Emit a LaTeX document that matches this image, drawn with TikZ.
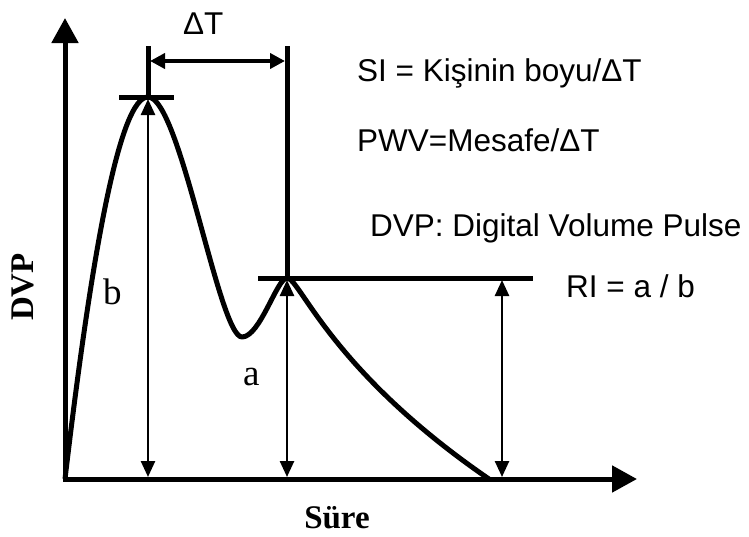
\documentclass[tikz,border=0pt]{standalone}
\usepackage{fontspec}
\setmainfont{Liberation Sans}
\newfontfamily\timesfont{Liberation Serif}
\usetikzlibrary{positioning, arrows.meta}

\begin{document}
\begin{tikzpicture}[x=1pt, y=-1pt,
  thickline/.style={line width=5pt},
  axisarrow/.style={line width=5pt, -{Triangle[length=25pt,width=26pt]}},
  dtarrow/.style={line width=4pt, {Triangle[length=15pt,width=15pt]}-{Triangle[length=15pt,width=15pt]}},
  thinarrow/.style={line width=2.5pt, {Triangle[length=16pt,width=14pt]}-{Triangle[length=16pt,width=14pt]}},
  sanstext/.style={font=\fontsize{31.5}{36}\selectfont, inner sep=0pt, anchor=base west},
  letter/.style={font=\timesfont\fontsize{37}{40}\selectfont, inner sep=0pt, anchor=base west},
  axisname/.style={font=\timesfont\bfseries\fontsize{33}{36}\selectfont, inner sep=0pt, anchor=base}]
  \useasboundingbox (0,0) rectangle (749,536);
  \coordinate (origin) at (65,479);
  \coordinate (ytip) at (65,18);
  \coordinate (xtip) at (637,479);
  \coordinate (peakb) at (148,97);
  \coordinate (trough) at (242,337);
  \coordinate (peaka) at (287,278);
  \coordinate (tail) at (489,479);
  \coordinate (bleft) at (119,97);
  \coordinate (bright) at (174,97);
  \coordinate (btop) at (148,46);
  \coordinate (atop) at (287,46);
  \coordinate (aleft) at (258,278);
  \coordinate (aright) at (533,278);
  \coordinate (dtleft) at (150,61);
  \coordinate (dtright) at (285,61);
  \coordinate (bfoot) at (148,477);
  \coordinate (afoot) at (287,477);
  \coordinate (rtop) at (502,280);
  \coordinate (rfoot) at (502,477);
  \coordinate (btip) at (148,99);
  \coordinate (atip) at (287,280);

  \draw[axisarrow] (65,481.5) -- (ytip);
  \draw[axisarrow] (62.5,479) -- (xtip);
  \draw[thickline, line join=round]
    (origin) .. controls (92,250) and (120,97) .. (peakb)
    .. controls (180,97) and (219,337) .. (trough)
    .. controls (260,337) and (277,278) .. (peaka)
    .. controls (300,278) and (330,370) .. (tail);
  \begin{scope}[thickline]
    \draw (bleft) -- (bright);
    \draw (btop) -- (peakb);
    \draw (atop) -- (peaka);
    \draw (aleft) -- (aright);
  \end{scope}
  \draw[dtarrow] (dtleft) -- (dtright);
  \begin{scope}[thinarrow]
    \draw (btip) -- (bfoot);
    \draw (atip) -- (afoot);
    \draw (rtop) -- (rfoot);
  \end{scope}

  \node[sanstext] (dt) at (183,34) {ΔT};
  \node[sanstext] (si) at (357,81) {SI = Kişinin boyu/ΔT};
  \node[sanstext] (pwv) at (357,151) {PWV=Mesafe/ΔT};
  \node[sanstext] (dvpdef) at (370,236) {DVP: Digital Volume Pulse};
  \node[sanstext] (ri) at (566,297) {RI = a / b};
  \node[letter] (b) at (103,304) {b};
  \node[letter] (a) at (243,385) {a};
  \node[axisname] (sure) at (337,528) {Süre};
  \node[axisname, rotate=90] (dvp) at (33,287) {DVP};
\end{tikzpicture}
\end{document}
